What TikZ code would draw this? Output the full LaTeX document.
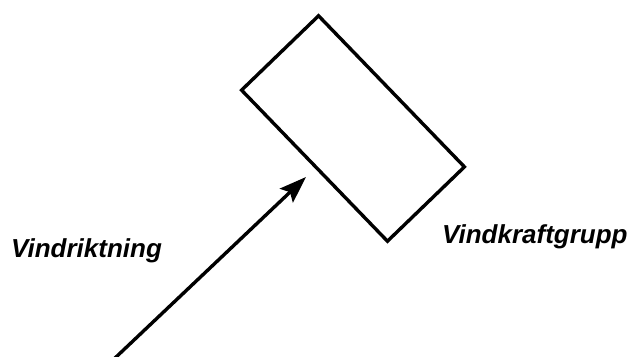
\documentclass[tikz,border=0pt]{standalone}
\usepackage{fontspec}
\setmainfont{Liberation Sans}
\usetikzlibrary{arrows.meta}
\begin{document}
\begin{tikzpicture}[x=1pt,y=1pt,
  lbl/.style={font=\fontsize{26}{29}\selectfont\bfseries\itshape, inner sep=0pt, anchor=base west},
  grpbox/.style={draw, line width=3.4pt, minimum width=210pt, minimum height=107pt, inner sep=0pt, rotate=-46},
  windarrow/.style={line width=3.4pt, -{Stealth[length=27pt,width=19pt,inset=5pt]}}]
\useasboundingbox (0,0) rectangle (631,356);
\node[grpbox] (grp) at (353,227.5) {};
\coordinate (s) at (114,-3);
\coordinate (t) at (306,179);
\draw[windarrow] (s) -- (t);
\node[lbl] (l1) at (11,99) {Vindriktning};
\node[lbl] (l2) at (442,112.5) {Vindkraftgrupp};
\end{tikzpicture}
\end{document}
